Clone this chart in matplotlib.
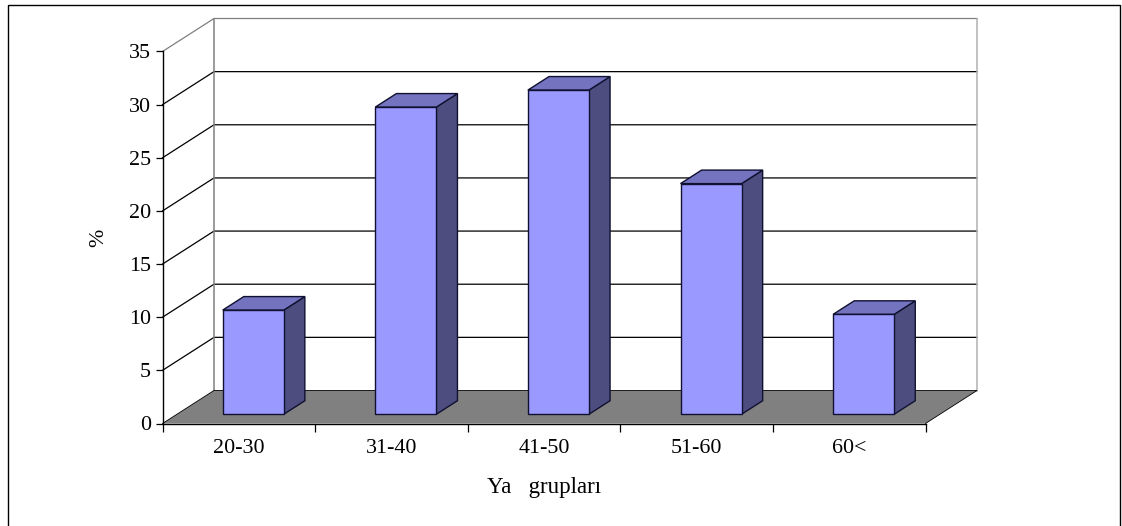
import matplotlib
matplotlib.use("Agg")
import matplotlib.pyplot as plt
from matplotlib.lines import Line2D
from matplotlib.patches import Polygon

categories = ["20-30", "31-40", "41-50", "51-60", "60<"]
values = [9.8, 28.9, 30.5, 21.7, 9.4]
y_ticks = [0, 5, 10, 15, 20, 25, 30, 35]
x_title = "Ya   grupları"
y_title = "%"

W, H = 1122, 526
plt.rcParams["font.family"] = ["Liberation Serif", "DejaVu Serif"]
fig = plt.figure(figsize=(W / 100, H / 100), dpi=100, facecolor="white")

# Front plane of the pseudo-3D box, placed in figure pixels
left, right, bottom, top = 162.5, 925.5, 423.5, 51.5
ax = fig.add_axes([left / W, 1 - bottom / H, (right - left) / W, (bottom - top) / H])
ax.set_xlim(0, len(categories))
ax.set_ylim(0, 35)
ax.patch.set_visible(False)

# Oblique depth of the box, in data units
DX = 51.5 / ((right - left) / len(categories))
DY = 33.0 / ((bottom - top) / 35)


def project(x, y, d):
    """Shift a data point backwards by depth fraction d."""
    return x + DX * d, y + DY * d


def poly(points, **kw):
    ax.add_patch(Polygon(points, closed=True, clip_on=False, **kw))


n = len(categories)

# Floor
poly([project(0, 0, 0), project(n, 0, 0), project(n, 0, 1), project(0, 0, 1)],
     facecolor="#808080", edgecolor="none", zorder=1)

# Gridlines on the back and side walls
for v in y_ticks:
    color = "#808080" if v in (0, 35) else "black"
    if v > 0:
        xs, ys = zip(project(0, v, 0), project(0, v, 1), project(n, v, 1))
        ax.plot(xs, ys, color=color, lw=0.9, clip_on=False, zorder=1.5)
xs, ys = zip(project(0, 0, 1), project(0, 35, 1))
ax.plot(xs, ys, color="#808080", lw=1.1, clip_on=False, zorder=1.5)
xs, ys = zip(project(n, 0, 1), project(n, 35, 1))
ax.plot(xs, ys, color="#b0b0b0", lw=1.1, clip_on=False, zorder=1.5)
xs, ys = zip(project(0, 0, 0), project(0, 0, 1), project(n, 0, 1), project(n, 0, 0))
ax.plot(xs, ys, color="black", lw=0.6, clip_on=False, zorder=1.6)

# Bars as front, side and top faces
BAR_W = 0.40
D0, D1 = 0.28, 0.69
edge = dict(edgecolor="#101030", linewidth=1.0, joinstyle="miter")
for i, v in enumerate(values):
    x0, x1 = i + 0.5 - BAR_W / 2, i + 0.5 + BAR_W / 2
    poly([project(x1, 0, D0), project(x1, 0, D1), project(x1, v, D1), project(x1, v, D0)],
         facecolor="#4d4d80", zorder=2, **edge)
    poly([project(x0, v, D0), project(x1, v, D0), project(x1, v, D1), project(x0, v, D1)],
         facecolor="#7373bf", zorder=2, **edge)
    poly([project(x0, 0, D0), project(x1, 0, D0), project(x1, v, D0), project(x0, v, D0)],
         facecolor="#9999ff", zorder=2.1, **edge)

# Axes, ticks and labels
for side in ("top", "right"):
    ax.spines[side].set_visible(False)
for side in ("left", "bottom"):
    ax.spines[side].set_linewidth(1.0)
    ax.spines[side].set_zorder(3)
ax.set_yticks(y_ticks)
ax.set_yticklabels([str(v) for v in y_ticks], fontsize=15.8)
ax.tick_params(axis="y", length=5, width=0.9, pad=3.2)
ax.set_xticks(range(n + 1))
ax.set_xticklabels([])
ax.set_xticks([i + 0.5 for i in range(n)], minor=True)
ax.set_xticklabels(categories, minor=True, fontsize=15.8)
ax.tick_params(axis="x", which="major", length=6, width=0.9)
ax.tick_params(axis="x", which="minor", length=0, pad=11)
ax.set_xlabel(x_title, fontsize=16.5, labelpad=14)
ax.set_ylabel(y_title, fontsize=15.8, labelpad=15)

# Outer chart frame, open along the lower edge
fx = lambda p: p / W
fy = lambda p: 1 - p / H
fig.add_artist(Line2D([fx(7.5), fx(7.5), fx(1119.5), fx(1119.5)],
                      [fy(H), fy(5), fy(5), fy(H)],
                      color="black", lw=1.0, solid_joinstyle="miter"))

fig.savefig("out.png", dpi=100, facecolor="white")
